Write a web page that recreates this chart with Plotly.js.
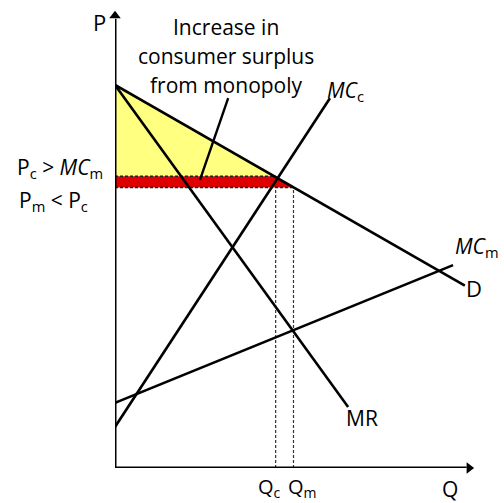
<!DOCTYPE html>
<html>
<head>
<meta charset="utf-8">
<script src="https://cdn.plot.ly/plotly-3.0.1.min.js"></script>
<style>html,body{margin:0;padding:0;background:#fff;}#chart{width:504px;height:503px;}</style>
</head>
<body>
<div id="chart"></div>
<script>
// Curve end points (quantity, price)
const demandQ = [0, 98];
const demandP = [84, 40];
const mrQ = [0, 65.3];
const mrP = [84, 13.4];
const mccQ = [0, 60.2];
const mccP = [9, 81.1];
const mcmQ = [0, 94.7];
const mcmP = [14.3, 44.5];

// Equilibrium prices and quantities
const Pc = 64, Qc = 45;
const Pm = 61.5, Qm = 50;
const pIntercept = 84;

// Consumer surplus gain regions
const yellowQ = [0, Qc, 0];
const yellowP = [pIntercept, Pc, Pc];
const redQ = [0, Qc, Qm, 0];
const redP = [Pc, Pc, Pm, Pm];

const FONT = 'Open Sans, sans-serif';
const black = '#000';

const traces = [
  {x: yellowQ, y: yellowP, mode: 'lines', fill: 'toself', fillcolor: 'rgb(255,255,128)', line: {width: 0}},
  {x: redQ, y: redP, mode: 'lines', fill: 'toself', fillcolor: 'rgb(222,0,0)', line: {width: 0}},
  // guide lines
  {x: [0, Qc], y: [Pc, Pc], mode: 'lines', line: {color: '#222', width: 1.5, dash: '3px,2px'}},
  {x: [0, Qm], y: [Pm, Pm], mode: 'lines', line: {color: '#222', width: 1.5, dash: '3px,2px'}},
  {x: [Qc, Qc], y: [0, Pc], mode: 'lines', line: {color: '#333', width: 1.2, dash: '3px,2px'}},
  {x: [Qm, Qm], y: [0, Pm], mode: 'lines', line: {color: '#333', width: 1.2, dash: '3px,2px'}},
  // curves
  {x: demandQ, y: demandP, mode: 'lines', line: {color: black, width: 2.6}},
  {x: mrQ, y: mrP, mode: 'lines', line: {color: black, width: 2.6}},
  {x: mccQ, y: mccP, mode: 'lines', line: {color: black, width: 2.6}},
  {x: mcmQ, y: mcmP, mode: 'lines', line: {color: black, width: 2.6}},
  // pointer from the caption to the shaded band
  {x: [31.7, 23.8], y: [81.1, 63.2], mode: 'lines', line: {color: black, width: 2.4}},
  // axes with arrowheads
  {x: [0, 0], y: [0, 98.5], mode: 'lines', line: {color: black, width: 3}},
  {x: [0, 98.5], y: [0, 0], mode: 'lines', line: {color: black, width: 3}},
  {x: [0], y: [99.2], mode: 'markers', marker: {symbol: 'triangle-up', size: 10, color: black}},
  {x: [99.2], y: [0], mode: 'markers', marker: {symbol: 'triangle-right', size: 10, color: black}}
].map(t => Object.assign({hoverinfo: 'skip', showlegend: false, cliponaxis: false, type: 'scatter'}, t));

// Labels placed in paper units that mirror the 0..100 axis ranges
function label(text, q, p, size) {
  return {text: text, x: q / 100, y: p / 100, xref: 'paper', yref: 'paper', showarrow: false,
    font: {family: FONT, size: size, color: black}, xanchor: 'center', yanchor: 'middle'};
}

const annotations = [
  label('P', -4.3, 97.8, 22),
  label('Q', 93.7, -4.6, 21),
  label('Increase in', 31.1, 96.8, 21),
  label('consumer surplus', 31.1, 90.3, 21),
  label('from monopoly', 31.1, 84.0, 21),
  label('P<sub>c</sub> > <i>MC</i><sub>m</sub>', -15.3, 65.8, 21),
  label('P<sub>m</sub> < P<sub>c</sub>', -17.3, 58.6, 21),
  label('<i>MC</i><sub>c</sub>', 64.6, 82.6, 21),
  label('<i>MC</i><sub>m</sub>', 101.4, 48.4, 21),
  label('D', 100.5, 39.5, 22),
  label('MR', 69.2, 10.9, 21),
  label('Q<sub>c</sub>', 43.4, -4.3, 20),
  label('Q<sub>m</sub>', 52.5, -4.3, 20)
];

const layout = {
  width: 504, height: 503,
  margin: {l: 115, r: 32, t: 12, b: 35},
  paper_bgcolor: '#fff', plot_bgcolor: '#fff',
  showlegend: false,
  xaxis: {range: [0, 100], visible: false, fixedrange: true},
  yaxis: {range: [0, 100], visible: false, fixedrange: true},
  annotations: annotations
};

Plotly.newPlot('chart', traces, layout, {displayModeBar: false, staticPlot: true});
</script>
</body>
</html>
